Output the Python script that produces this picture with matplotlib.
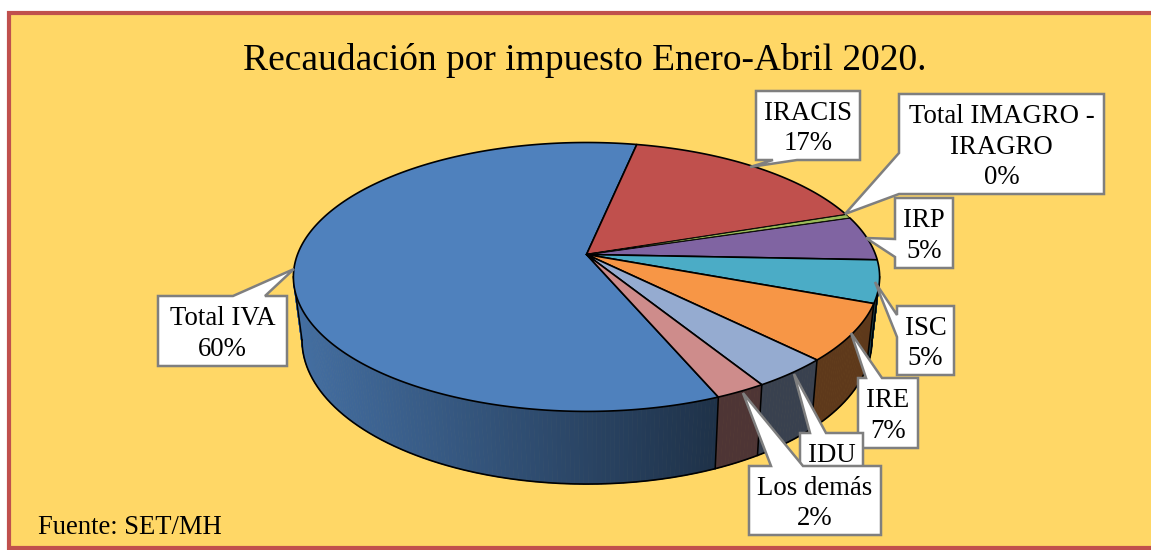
import numpy as np
import matplotlib
matplotlib.use("Agg")
import matplotlib.pyplot as plt
from matplotlib.patches import Polygon, Rectangle
from matplotlib.collections import PolyCollection

plt.rcParams['font.family'] = ['Liberation Serif', 'DejaVu Serif']

# data
labels = ["Total IVA", "IRACIS", "Total IMAGRO -\nIRAGRO", "IRP", "ISC", "IRE", "IDU", "Los demás"]
values = [59.55, 16.55, 0.45, 5.4, 5.1, 6.85, 3.7, 2.4]
colors = ["#4F81BD", "#C0504D", "#9BBB59", "#8064A2", "#4BACC6", "#F79646", "#95ABD0", "#CE8C8B"]
title = "Recaudación por impuesto Enero-Abril 2020."
source = "Fuente: SET/MH"

# callout layout in pixels: box (x0, y0, x1, y1), tip, side of the box, start and end of the pointer base
boxes = [
    (158, 296, 287, 366),
    (756, 91, 860, 160),
    (899, 94, 1104, 194),
    (895, 198, 953, 268),
    (897, 306, 954, 375),
    (858, 378, 918, 448),
    (800, 433, 863, 503),
    (749, 466, 881, 535),
]
tips = [(294, 269), (750, 167), (845, 214), (866, 238), (875, 282), (851, 333), (794, 374), (743, 393)]
bases = [("top", 233, 265), ("bottom", 773, 797), ("left", 153, 194), ("left", 239, 257),
         ("left", 315, 337), ("top", 866, 882), ("top", 810, 826), ("top", 771, 803)]

START = 157.3  # clockwise from the top of the disc
K = 0.167


def project(theta, cx, cy, ax_w, ax_h):
    # disc seen in perspective, so the centre is not in the middle of the ellipse
    t = np.radians(theta)
    u, v = np.sin(t), np.cos(t)
    d = 1 + K * v
    return cx + ax_w * u / d, cy - ax_h * v / d


def top_pt(theta):
    return project(theta, 586.5, 254.5, 289, 130.7)


def low_pt(theta):
    return project(theta, 587, 316, 281, 140)


def side_shade(x):
    return np.clip(0.85 - (x - 300) / 420 * 0.47, 0.38, 0.85)


def callout_poly(box, tip, base):
    x0, y0, x1, y1 = box
    side, a, b = base
    if side == "top":
        return [(x0, y0), (a, y0), tip, (b, y0), (x1, y0), (x1, y1), (x0, y1)]
    if side == "bottom":
        return [(x0, y0), (x1, y0), (x1, y1), (b, y1), tip, (a, y1), (x0, y1)]
    return [(x0, y0), (x1, y0), (x1, y1), (x0, y1), (x0, b), tip, (x0, a)]


fig = plt.figure(figsize=(11.51, 5.5), dpi=100, facecolor="white")
ax = fig.add_axes([0, 0, 1, 1])
ax.set_xlim(0, 1151)
ax.set_ylim(550, 0)
ax.axis("off")

ax.add_patch(Rectangle((9, 13), 1160, 535, facecolor="#FFD766", edgecolor="#C0504D", linewidth=3, zorder=0))

# slice limits from the values
sweeps = np.array(values) / sum(values) * 360
edges = START + np.concatenate([[0], np.cumsum(sweeps)])
# silhouette of the side wall on the right and left of the disc
RIGHT = 99.6
LEFT = 260.4

# side wall, fine strips so that the shading runs across it
strips, strip_cols = [], []
for i, col in enumerate(colors):
    a0, a1 = edges[i], edges[i + 1]
    base = np.array(matplotlib.colors.to_rgb(col))
    for shift in (0, 360):
        lo = max(a0 - shift, RIGHT)
        hi = min(a1 - shift, LEFT)
        if hi <= lo:
            continue
        steps = np.append(np.arange(lo, hi, 0.75), hi)
        for s0, s1 in zip(steps[:-1], steps[1:]):
            p0, p1 = top_pt(s0), top_pt(s1)
            q0, q1 = low_pt(s0), low_pt(s1)
            strips.append([p0, p1, q1, q0])
            strip_cols.append(tuple(base * side_shade((p0[0] + p1[0]) / 2)))
ax.add_collection(PolyCollection(strips, facecolors=strip_cols, edgecolors=strip_cols, linewidths=0.6, zorder=1))

# side wall outline
arc = np.linspace(RIGHT, LEFT, 300)
lx, ly = low_pt(arc)
ax.plot(lx, ly, color="black", lw=1.2, zorder=2)
for e in [RIGHT, LEFT] + [x % 360 for x in edges[4:8]] + [edges[0]]:
    if RIGHT <= e <= LEFT:
        p, q = top_pt(e), low_pt(e)
        ax.plot([p[0], q[0]], [p[1], q[1]], color="black", lw=1.1, zorder=2)

# top of the disc
for i, col in enumerate(colors):
    th = np.linspace(edges[i], edges[i + 1], max(int(sweeps[i] * 2), 4))
    x, y = top_pt(th)
    pts = [(586.5, 254.5)] + list(zip(x, y))
    lw = 0.5 if sweeps[i] < 3 else 1.2  # the thin slice would vanish under a full outline
    ax.add_patch(Polygon(pts, closed=True, facecolor=col, edgecolor="black", linewidth=lw, joinstyle="round",
                         zorder=3 + (0.5 if sweeps[i] < 3 else 0)))

# callouts, Los demas comes last and covers the bottom of the IDU box
for i in range(len(labels)):
    ax.add_patch(Polygon(callout_poly(boxes[i], tips[i], bases[i]), closed=True, facecolor="white",
                         edgecolor="#7F7F7F", linewidth=1.8, joinstyle="miter", zorder=5 + i))
    x0, y0, x1, y1 = boxes[i]
    if labels[i] == "IDU":
        # only the name shows, the percentage is under the next box
        ax.text((x0 + x1) / 2, y0 + 22, labels[i], ha="center", va="center", fontsize=19.3, color="black", zorder=5 + i)
        continue
    txt = f"{labels[i]}\n{values[i]:.0f}%"
    ax.text((x0 + x1) / 2, (y0 + y1) / 2 + 3, txt, ha="center", va="center", fontsize=19.3,
            linespacing=1.3, color="black", zorder=5 + i)

ax.text(585, 60, title, ha="center", va="center", fontsize=27, color="black", zorder=4)
ax.text(38, 527, source, ha="left", va="center", fontsize=19.2, color="black", zorder=4)

fig.savefig("out.png", dpi=100, facecolor="white")
